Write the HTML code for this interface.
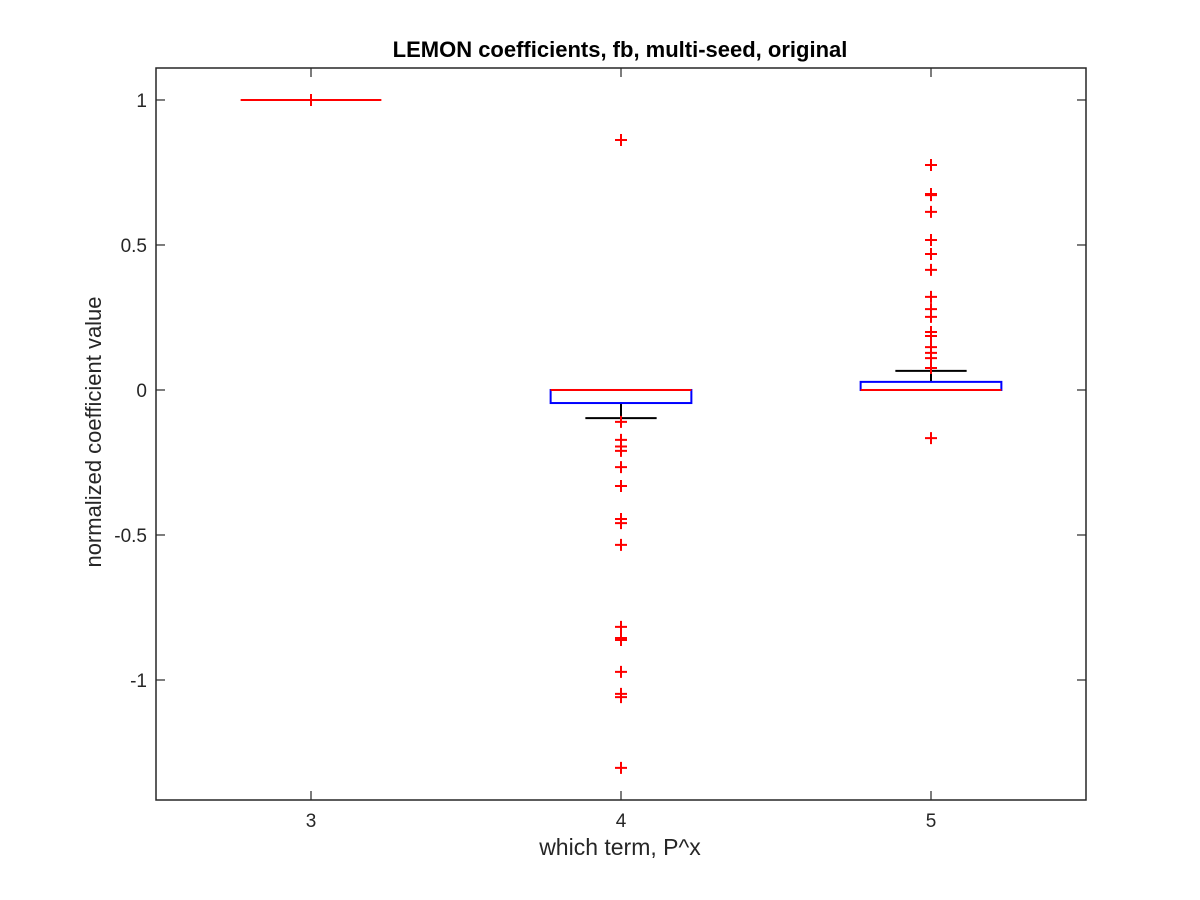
<!DOCTYPE html>
<html><head><meta charset="utf-8"><style>body{margin:0;background:#fff}svg{display:block}text{font-family:"Liberation Sans",sans-serif;fill:#262626}</style></head>
<body>
<svg id="chart" width="1200" height="900" viewBox="0 0 1200 900" xmlns="http://www.w3.org/2000/svg">
<rect width="1200" height="900" fill="#fff"/>
<g id="plot"></g>
<text x="620" y="57" text-anchor="middle" font-size="22" font-weight="bold" style="fill:#000">LEMON coefficients, fb, multi-seed, original</text>
<text x="620" y="855" text-anchor="middle" font-size="23">which term, P^x</text>
<text transform="translate(101,432) rotate(-90)" text-anchor="middle" font-size="22">normalized coefficient value</text>
</svg>
<script>
const categories = [3, 4, 5];
const q1 = [1, -0.045, 0];
const q3 = [1, 0, 0.028];
const medians = [1, 0, 0];
const whiskerLow = [1, -0.097, 0];
const whiskerHigh = [1, 0, 0.066];
const outliers = [
  [1],
  [0.862, -0.110, -0.172, -0.195, -0.21, -0.266, -0.331, -0.445, -0.459, -0.534, -0.817, -0.855, -0.862, -0.972, -1.048, -1.059, -1.303],
  [0.776, 0.676, 0.672, 0.614, 0.517, 0.469, 0.414, 0.321, 0.279, 0.252, 0.200, 0.186, 0.148, 0.128, 0.110, 0.076, -0.166]
];
const yTicks = [1, 0.5, 0, -0.5, -1];
const yTickLabels = ["1", "0.5", "0", "-0.5", "-1"];

const L=156,R=1086,T=68,B=800, xMin=2.5,xMax=5.5,yMin=-1.4138,yMax=1.1103;
const xs=v=>L+(v-xMin)/(xMax-xMin)*(R-L);
const ys=v=>B-(v-yMin)/(yMax-yMin)*(B-T);
const NS="http://www.w3.org/2000/svg";
const g=document.getElementById('plot');
function mk(tag,attrs,parent){const e=document.createElementNS(NS,tag);for(const k in attrs)e.setAttribute(k,attrs[k]);(parent||g).appendChild(e);return e;}
const boxHalf=0.227, capHalf=0.115;
categories.forEach((c,i)=>{
  const grp=mk('g',{});
  
  
  const cx=xs(c);
  const ln=(a,b,c2,d,col)=>mk('line',{x1:a,y1:b,x2:c2,y2:d,stroke:col,'stroke-width':2},grp);
  if(whiskerHigh[i]>q3[i]){ln(cx,ys(q3[i]),cx,ys(whiskerHigh[i]),'#000');}
  if(whiskerLow[i]<q1[i]){ln(cx,ys(q1[i]),cx,ys(whiskerLow[i]),'#000');}
  if(whiskerHigh[i]!==whiskerLow[i]){
    ln(xs(c-capHalf),ys(whiskerHigh[i]),xs(c+capHalf),ys(whiskerHigh[i]),'#000');
    ln(xs(c-capHalf),ys(whiskerLow[i]),xs(c+capHalf),ys(whiskerLow[i]),'#000');
  }
  if(q3[i]!==q1[i]){
    const r=mk('rect',{x:xs(c-boxHalf),y:ys(q3[i]),width:xs(c+boxHalf)-xs(c-boxHalf),height:ys(q1[i])-ys(q3[i]),fill:'none',stroke:'#0000ff','stroke-width':2},grp);
    
    
  }
  const m=ln(xs(c-boxHalf),ys(medians[i]),xs(c+boxHalf),ys(medians[i]),'#ff0000');
  
  
  outliers[i].forEach(v=>{
    const p=mk('path',{d:`M${cx-6},${ys(v)}h12M${cx},${ys(v)-6}v12`,stroke:'#ff0000','stroke-width':2,fill:'none'},grp);
    
    
  });
});
const ax=mk('rect',{x:L,y:T,width:R-L,height:B-T,fill:'none',stroke:'#262626','stroke-width':1.5});


yTicks.forEach((v,i)=>{
  const y=ys(v);
  mk('line',{x1:L,y1:y,x2:L+9,y2:y,stroke:'#262626','stroke-width':1.2});
  mk('line',{x1:R,y1:y,x2:R-9,y2:y,stroke:'#262626','stroke-width':1.2});
  const t=mk('text',{x:L-9,y:y+7,'text-anchor':'end','font-size':19});
  t.textContent=yTickLabels[i];
  
  
});
categories.forEach(c=>{
  const x=xs(c);
  mk('line',{x1:x,y1:B,x2:x,y2:B-9,stroke:'#262626','stroke-width':1.2});
  mk('line',{x1:x,y1:T,x2:x,y2:T+9,stroke:'#262626','stroke-width':1.2});
  const t=mk('text',{x:x,y:B+27,'text-anchor':'middle','font-size':19});
  t.textContent=String(c);
  
  
});
</script>
</body></html>
